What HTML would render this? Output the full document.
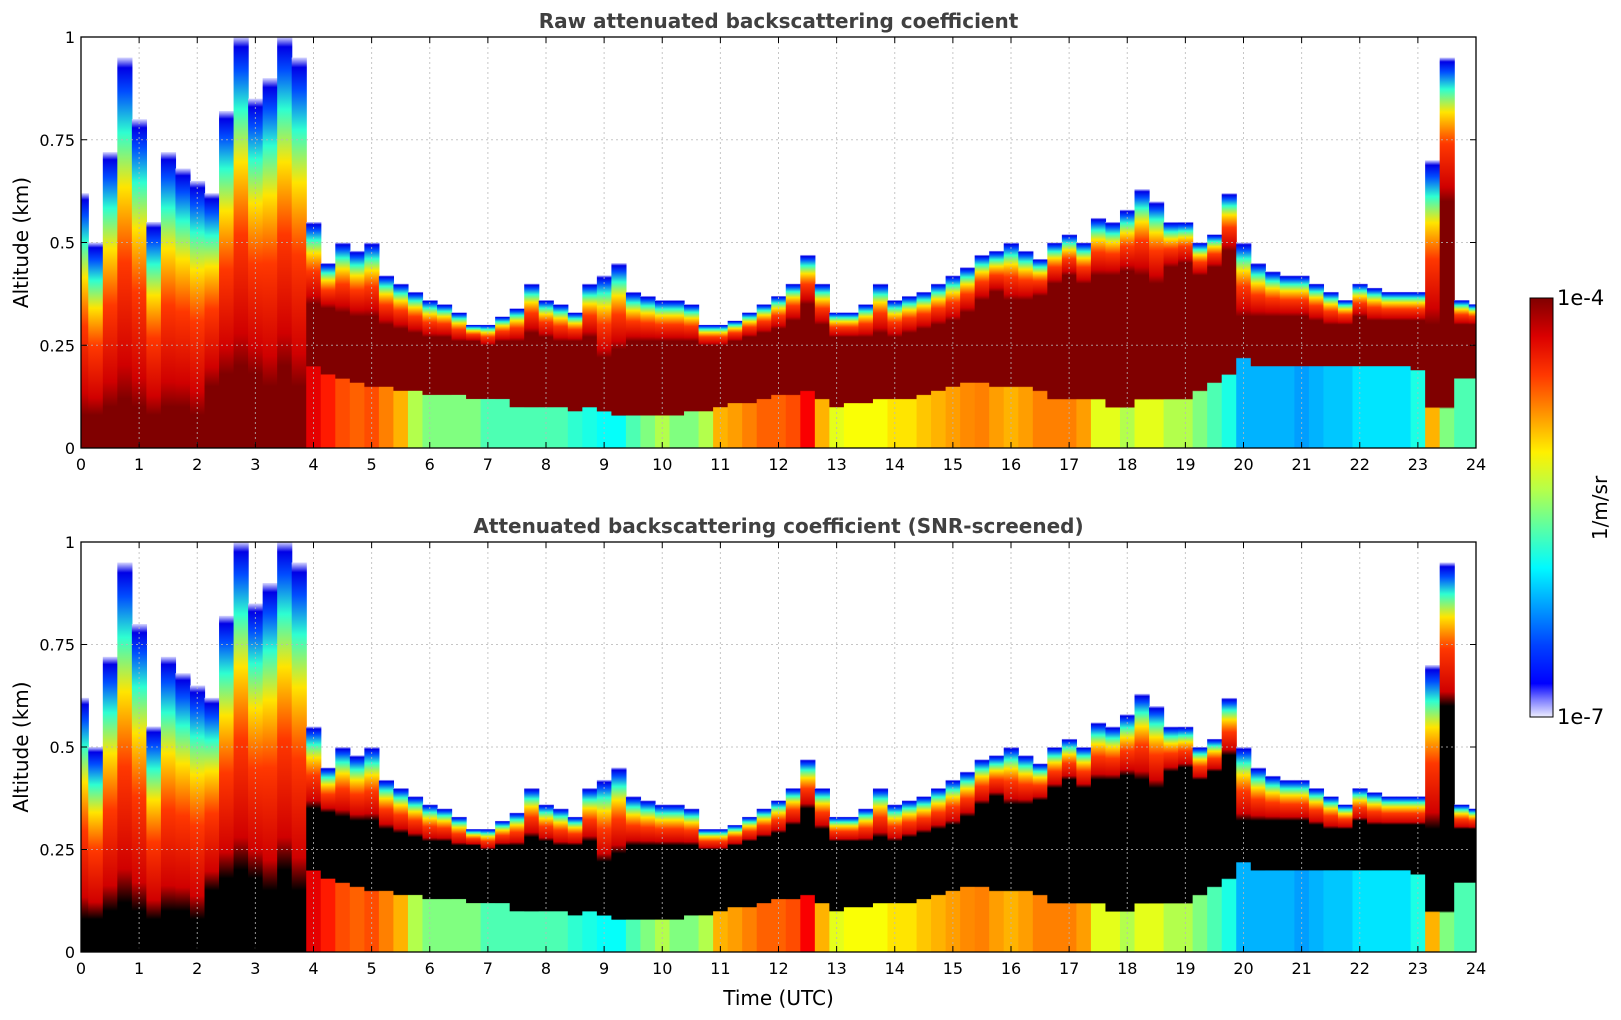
<!DOCTYPE html>
<html><head><meta charset="utf-8"><style>
html,body{margin:0;padding:0;background:#fff;}
svg{display:block;font-family:"DejaVu Sans","Liberation Sans",sans-serif;}
</style></head><body>
<svg id="chart" width="1621" height="1020" viewBox="0 0 1621 1020" xmlns="http://www.w3.org/2000/svg"></svg>
<script>
// Data: sampled every 0.25 h from 0 to 24 UTC (97 values)
const times = Array.from({length:97},(_,i)=>i*0.25);
const cloudTop = [
.62,.5,.72,.95, .8,.55,.72,.68, .65,.62,.82,1, .85,.9,1,.95,
.55,.45,.5,.48, .5,.42,.4,.38, .36,.35,.33,.3, .3,.32,.34,.4,
.36,.35,.33,.4, .42,.45,.38,.37, .36,.36,.35,.3, .3,.31,.33,.35,
.37,.4,.47,.4, .33,.33,.35,.4, .36,.37,.38,.4, .42,.44,.47,.48,
.5,.48,.46,.5, .52,.5,.56,.55, .58,.63,.6,.55, .55,.5,.52,.62,
.5,.45,.43,.42, .42,.4,.38,.36, .4,.39,.38,.38, .38,.7,.95,.36, .35];
const coreTop = [
.08,.08,.1,.12, .1,.08,.1,.1, .08,.15,.18,.2, .18,.15,.2,.15,
.35,.34,.33,.32, .32,.3,.29,.28, .27,.27,.26,.26, .25,.26,.26,.28,
.27,.26,.26,.27, .22,.24,.26,.26, .26,.26,.26,.25, .25,.26,.27,.28,
.29,.31,.35,.3, .27,.27,.27,.28, .27,.28,.29,.3, .31,.33,.36,.38,
.36,.36,.37,.4, .42,.4,.42,.42, .43,.42,.4,.44, .45,.42,.44,.48,
.32,.32,.32,.32, .32,.31,.3,.3, .32,.31,.31,.31, .31,.3,.6,.3, .3];
const coreBot = [
0,0,0,0, 0,0,0,0, 0,0,0,0, 0,0,0,0,
.2,.18,.17,.16, .15,.15,.14,.14, .13,.13,.13,.12, .12,.12,.1,.1,
.1,.1,.09,.1, .09,.08,.08,.08, .08,.08,.09,.09, .1,.11,.11,.12,
.13,.13,.14,.12, .1,.11,.11,.12, .12,.12,.13,.14, .15,.16,.16,.15,
.15,.15,.14,.12, .12,.12,.12,.1, .1,.12,.12,.12, .12,.14,.16,.18,
.22,.2,.2,.2, .2,.2,.2,.2, .2,.2,.2,.2, .19,.1,.1,.17, .17];
const lowLevel = [
.95,.95,.95,.95, .95,.95,.95,.95, .95,.95,.95,.95, .95,.95,.95,.95,
.9,.85,.8,.78, .8,.75,.7,.55, .5,.5,.5,.5, .45,.45,.45,.45,
.45,.45,.42,.4, .38,.38,.45,.5, .55,.5,.5,.55, .7,.72,.75,.78,
.78,.8,.88,.7, .6,.62,.62,.62, .65,.65,.68,.7, .72,.74,.75,.72,
.7,.72,.75,.75, .75,.72,.6,.6, .55,.6,.6,.55, .55,.5,.45,.4,
.3,.3,.3,.3, .28,.3,.32,.32, .35,.35,.35,.35, .4,.7,.5,.45, .45];
const xTicks = Array.from({length:25},(_,i)=>i);
const yTicks = [0,0.25,0.5,0.75,1];
const yTickLabels = ["0","0.25","0.5","0.75","1"];

const NS="http://www.w3.org/2000/svg";
const svg=document.getElementById('chart');
const defs=document.createElementNS(NS,'defs');svg.appendChild(defs);
function mk(tag,attrs,parent){const e=document.createElementNS(NS,tag);for(const k in attrs)e.setAttribute(k,attrs[k]);(parent||svg).appendChild(e);return e;}
function clamp(v){return Math.max(0,Math.min(1,v));}
function jet(v){const r=clamp(1.5-Math.abs(4*v-3)),g=clamp(1.5-Math.abs(4*v-2)),b=clamp(1.5-Math.abs(4*v-1));return `rgb(${Math.round(r*255)},${Math.round(g*255)},${Math.round(b*255)})`;}

const X0=81,X1=1476;
const panels=[{y0:37,y1:448,title:"Raw attenuated backscattering coefficient",core:"#800000",name:"raw"},
              {y0:542,y1:952,title:"Attenuated backscattering coefficient (SNR-screened)",core:"#000000",name:"screened"}];
const xs=t=>X0+(t/24)*(X1-X0);

panels.forEach((p,pi)=>{
  const ys=a=>p.y1-a*(p.y1-p.y0);
  const g=mk('g',{},svg);
  
  
  const cp=mk('clipPath',{id:'clip'+pi},defs);
  mk('rect',{x:X0,y:p.y0,width:X1-X0,height:p.y1-p.y0},cp);
  g.setAttribute('clip-path',`url(#clip${pi})`);
  times.forEach((t,i)=>{
    const top=Math.min(cloudTop[i],1), ct=coreTop[i], cb=coreBot[i];
    const gid=`gr${pi}_${i}`;
    const lg=mk('linearGradient',{id:gid,x1:0,y1:1,x2:0,y2:0},defs);
    const stops=[];
    const low=jet(lowLevel[i]);
    stops.push([0,low]);
    if(cb>0){stops.push([cb/top-0.005,low]);}
    stops.push([cb/top,p.core]);
    stops.push([ct/top,p.core]);
    const span=top-ct;
    [[0.1,"#d00000"],[0.4,jet(0.82)],[0.62,jet(0.65)],[0.78,jet(0.42)],[0.9,jet(0.2)],[0.97,jet(0.1)],[1,"#d8d8ff"]]
      .forEach(([f,c])=>stops.push([(ct+span*f)/top,c]));
    stops.forEach(([o,c])=>mk('stop',{offset:Math.max(0,Math.min(1,o)),'stop-color':c},lg));
    const x=xs(t-0.125), w=xs(t+0.125)-x;
    const r=mk('rect',{x:x.toFixed(2),y:ys(top).toFixed(2),width:(w+0.6).toFixed(2),height:(ys(0)-ys(top)).toFixed(2),fill:`url(#${gid})`},g);
    
    
  });
  const grid=mk('g',{stroke:'#b8b8b8','stroke-width':1,'stroke-dasharray':'2,3',opacity:0.8},svg);
  
  
  xTicks.slice(1,-1).forEach(t=>mk('line',{x1:xs(t),x2:xs(t),y1:p.y0,y2:p.y1},grid));
  yTicks.slice(1,-1).forEach(v=>mk('line',{x1:X0,x2:X1,y1:ys(v),y2:ys(v)},grid));
  const fr=mk('rect',{x:X0,y:p.y0,width:X1-X0,height:p.y1-p.y0,fill:'none',stroke:'#000','stroke-width':1.3},svg);
  
  
  const tk=mk('g',{stroke:'#000','stroke-width':1},svg);
  xTicks.forEach(t=>{mk('line',{x1:xs(t),x2:xs(t),y1:p.y1,y2:p.y1-6},tk);mk('line',{x1:xs(t),x2:xs(t),y1:p.y0,y2:p.y0+6},tk);
    const l=mk('text',{x:xs(t),y:p.y1+22,'text-anchor':'middle','font-size':16,fill:'#000'},svg);l.textContent=t;
    });
  yTicks.forEach((v,k)=>{mk('line',{x1:X0,x2:X0+6,y1:ys(v),y2:ys(v)},tk);mk('line',{x1:X1,x2:X1-6,y1:ys(v),y2:ys(v)},tk);
    const l=mk('text',{x:X0-6,y:ys(v)+6,'text-anchor':'end','font-size':16,fill:'#000'},svg);l.textContent=yTickLabels[k];
    });
  const ti=mk('text',{x:(X0+X1)/2,y:p.y0-9,'text-anchor':'middle','font-size':20,'font-weight':'bold',fill:'#404040'},svg);
  ti.textContent=p.title;
  const yl=mk('text',{x:0,y:0,transform:`translate(28,${(p.y0+p.y1)/2}) rotate(-90)`,'text-anchor':'middle','font-size':20,fill:'#000'},svg);
  yl.textContent='Altitude (km)';
});
const xl=mk('text',{x:(X0+X1)/2,y:1005,'text-anchor':'middle','font-size':20,fill:'#000'},svg);
xl.textContent='Time (UTC)';


const cg=mk('linearGradient',{id:'cbar',x1:0,y1:1,x2:0,y2:0},defs);
mk('stop',{offset:0,'stop-color':'#eeeeff'},cg);
mk('stop',{offset:0.04,'stop-color':'#8080ff'},cg);
mk('stop',{offset:0.08,'stop-color':'#0000ff'},cg);
for(let k=1;k<=10;k++){const o=0.08+0.92*k/10;mk('stop',{offset:o,'stop-color':jet(0.1+0.9*k/10)},cg);}
const cb=mk('rect',{x:1530,y:298,width:23,height:419,fill:'url(#cbar)',stroke:'#000','stroke-width':1},svg);


const c1=mk('text',{x:1557,y:305,'font-size':21,fill:'#000'},svg);c1.textContent='1e-4';

const c2=mk('text',{x:1557,y:724,'font-size':21,fill:'#000'},svg);c2.textContent='1e-7';

const c3=mk('text',{x:0,y:0,transform:'translate(1607,508) rotate(-90)','text-anchor':'middle','font-size':20,fill:'#000'},svg);c3.textContent='1/m/sr';

</script>
</body></html>
